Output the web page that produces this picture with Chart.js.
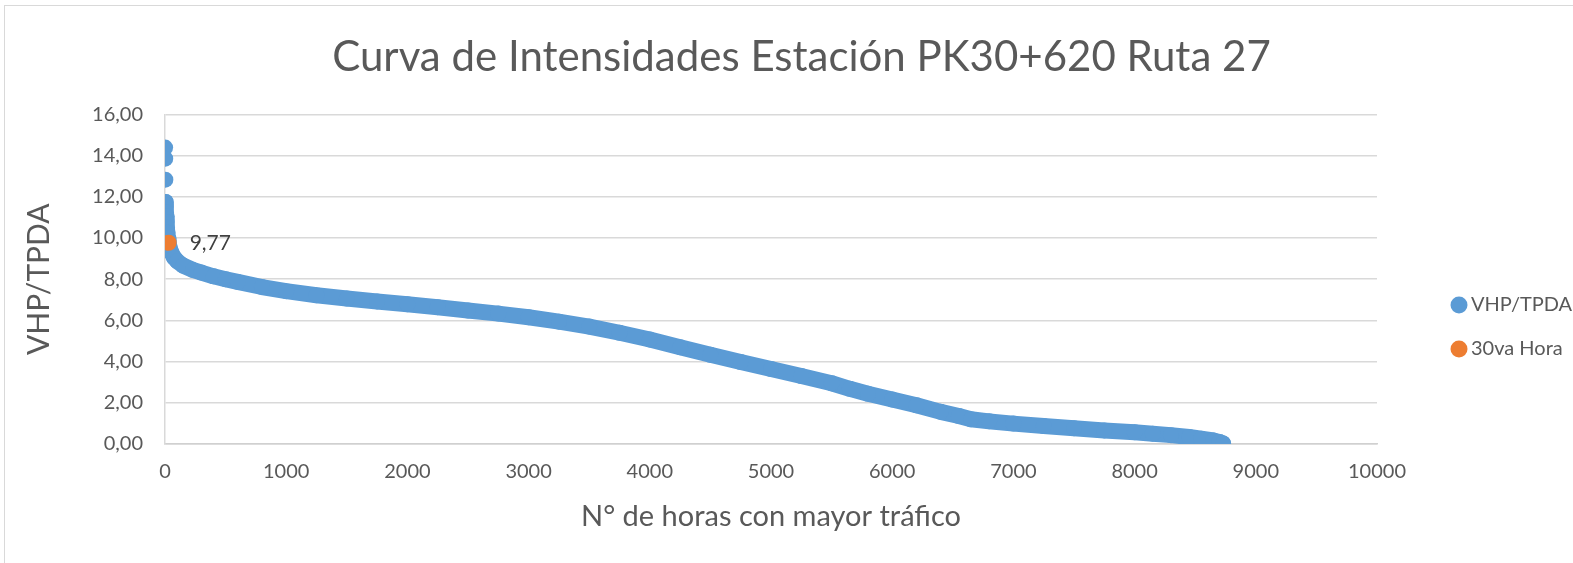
<!DOCTYPE html>
<html>
<head>
<meta charset="utf-8">
<script src="https://cdn.jsdelivr.net/npm/chart.js@4.4.1/dist/chart.umd.min.js"></script>
<style>
    html, body { margin: 0; padding: 0; background: #ffffff; }
    #frame {
        position: absolute; left: 4px; top: 5px; width: 1700px; height: 700px;
        border-left: 1px solid #d9d9d9; border-top: 1px solid #d9d9d9;
    }
    #wrap { position: absolute; left: 0; top: 0; width: 1573px; height: 563px; }
</style>
</head>
<body>
<div id="frame"></div>
<div id="wrap"><canvas id="curveChart" width="1573" height="563"></canvas></div>
<script>
// Horas ordenadas (x) y VHP/TPDA (y)
const hours = [1, 2, 3, 4, 5, 6, 8, 10, 13, 16, 20, 25, 30, 40, 50, 75, 100, 150, 230, 300,
    400, 500, 600, 800, 1000, 1250, 1500, 1750, 2000, 2250, 2500, 2750, 3000, 3250, 3500,
    3750, 4000, 4250, 4500, 4750, 5000, 5250, 5500, 5650, 5800, 6000, 6200, 6400, 6550,
    6650, 6800, 7000, 7250, 7500, 7750, 8000, 8150, 8300, 8450, 8550, 8650, 8700, 8730];
const vhpTpda = [14.39, 13.85, 12.83, 11.75, 11.62, 11.50, 11.25, 11.05, 10.78, 10.52, 10.25,
    9.98, 9.77, 9.50, 9.32, 9.05, 8.88, 8.66, 8.45, 8.32, 8.14, 8.00, 7.87, 7.62, 7.42, 7.22,
    7.06, 6.92, 6.78, 6.64, 6.48, 6.33, 6.15, 5.94, 5.70, 5.40, 5.07, 4.70, 4.33, 3.98, 3.64,
    3.30, 2.95, 2.68, 2.44, 2.16, 1.88, 1.56, 1.36, 1.20, 1.10, 0.99, 0.87, 0.76, 0.66, 0.57,
    0.50, 0.43, 0.34, 0.26, 0.17, 0.10, 0.03];

// Hora 30
const hour30 = [30];
const hour30Value = [9.77];

const xTicks = [0, 1000, 2000, 3000, 4000, 5000, 6000, 7000, 8000, 9000, 10000];
const yTicks = [0, 2, 4, 6, 8, 10, 12, 14, 16];

const BLUE = "#5B9BD5";
const ORANGE = "#ED7D31";
const TEXT = "#595959";
const FONT = "Lato";

const fmt = (v) => v.toFixed(2).replace(".", ",");

// Etiqueta de dato junto al punto naranja
const pointLabel = {
    id: "pointLabel",
    afterDatasetsDraw(chart) {
        const meta = chart.getDatasetMeta(1);
        const ctx = chart.ctx;
        ctx.save();
        ctx.font = "21px " + FONT;
        ctx.fillStyle = "#404040";
        ctx.textBaseline = "middle";
        meta.data.forEach((pt, i) => {
            ctx.fillText(fmt(hour30Value[i]), pt.x + 21, pt.y);
        });
        ctx.restore();
    },
};

// Leyenda a la derecha y titulo algo corrido, como en Excel
const legendPlacer = {
    id: "legendPlacer",
    beforeLayout(chart) {
        const legend = chart.legend;
        if (legend && !legend._patched) {
            const fit = legend.fit;
            legend.fit = function () {
                fit.call(this);
                this.width = 196;
            };
            legend._patched = true;
        }
    },
    afterLayout(chart) {
        const legend = chart.legend;
        const h = legend.bottom - legend.top;
        legend.left = 1433;
        legend.top = 271;
        legend.bottom = legend.top + h;

        const title = chart.titleBlock;
        title.left += 15;
        title.right += 15;
    },
};

const points = hours.map((h, i) => ({ x: h, y: vhpTpda[i] }));
const point30 = hour30.map((h, i) => ({ x: h, y: hour30Value[i] }));

new Chart(document.getElementById("curveChart"), {
    type: "scatter",
    data: {
        datasets: [
            {
                label: "VHP/TPDA",
                data: points,
                order: 1,
                showLine: true,
                borderColor: BLUE,
                backgroundColor: BLUE,
                borderWidth: 16,
                borderCapStyle: "round",
                borderJoinStyle: "round",
                pointRadius: 8,
                pointBorderWidth: 0,
                pointHoverRadius: 8,
                segment: {
                    // las primeras horas quedan sueltas
                    borderColor: (c) => (c.p0DataIndex < 3 ? "rgba(0,0,0,0)" : BLUE),
                },
            },
            {
                label: "30va Hora",
                data: point30,
                order: 0,
                borderColor: ORANGE,
                backgroundColor: ORANGE,
                pointRadius: 8,
                pointBorderWidth: 0,
                pointHoverRadius: 8,
            },
        ],
    },
    options: {
        responsive: false,
        animation: false,
        devicePixelRatio: 1,
        layout: { padding: 0 },
        plugins: {
            title: {
                display: true,
                text: "Curva de Intensidades Estación PK30+620 Ruta 27",
                color: TEXT,
                font: { family: FONT, size: 42, weight: "normal" },
                padding: { top: 32, bottom: 32 },
            },
            legend: {
                position: "right",
                align: "start",
                labels: {
                    color: TEXT,
                    font: { family: FONT, size: 20 },
                    usePointStyle: true,
                    pointStyle: "circle",
                    boxWidth: 4,
                    boxHeight: 12,
                    padding: 24,
                    sort: (a, b) => a.datasetIndex - b.datasetIndex,
                },
            },
            tooltip: { enabled: false },
        },
        scales: {
            x: {
                type: "linear",
                min: 0,
                max: 10000,
                afterBuildTicks: (s) => { s.ticks = xTicks.map((v) => ({ value: v })); },
                afterFit: (s) => { s.height = 119; },
                grid: { display: false },
                border: { display: true, color: "#d0d0d0", width: 1.5 },
                ticks: {
                    color: TEXT,
                    font: { family: FONT, size: 20 },
                    padding: 8,
                    maxRotation: 0,
                    callback: (v) => String(v),
                },
                title: {
                    display: true,
                    text: "N° de horas con mayor tráfico",
                    color: TEXT,
                    font: { family: FONT, size: 29 },
                    padding: { top: 0, bottom: 29 },
                },
            },
            y: {
                min: 0,
                max: 16,
                afterBuildTicks: (s) => { s.ticks = yTicks.map((v) => ({ value: v })); },
                afterFit: (s) => { s.width = 165; },
                grid: { color: "#d9d9d9", lineWidth: 1.5, drawTicks: false },
                border: { display: true, color: "#d9d9d9", width: 1.5 },
                ticks: {
                    color: TEXT,
                    font: { family: FONT, size: 20 },
                    padding: 22,
                    callback: (v) => fmt(v),
                },
                title: {
                    display: true,
                    text: "VHP/TPDA",
                    color: TEXT,
                    font: { family: FONT, size: 30 },
                    padding: { top: 21, bottom: 0 },
                },
            },
        },
    },
    plugins: [pointLabel, legendPlacer],
});
</script>
</body>
</html>
